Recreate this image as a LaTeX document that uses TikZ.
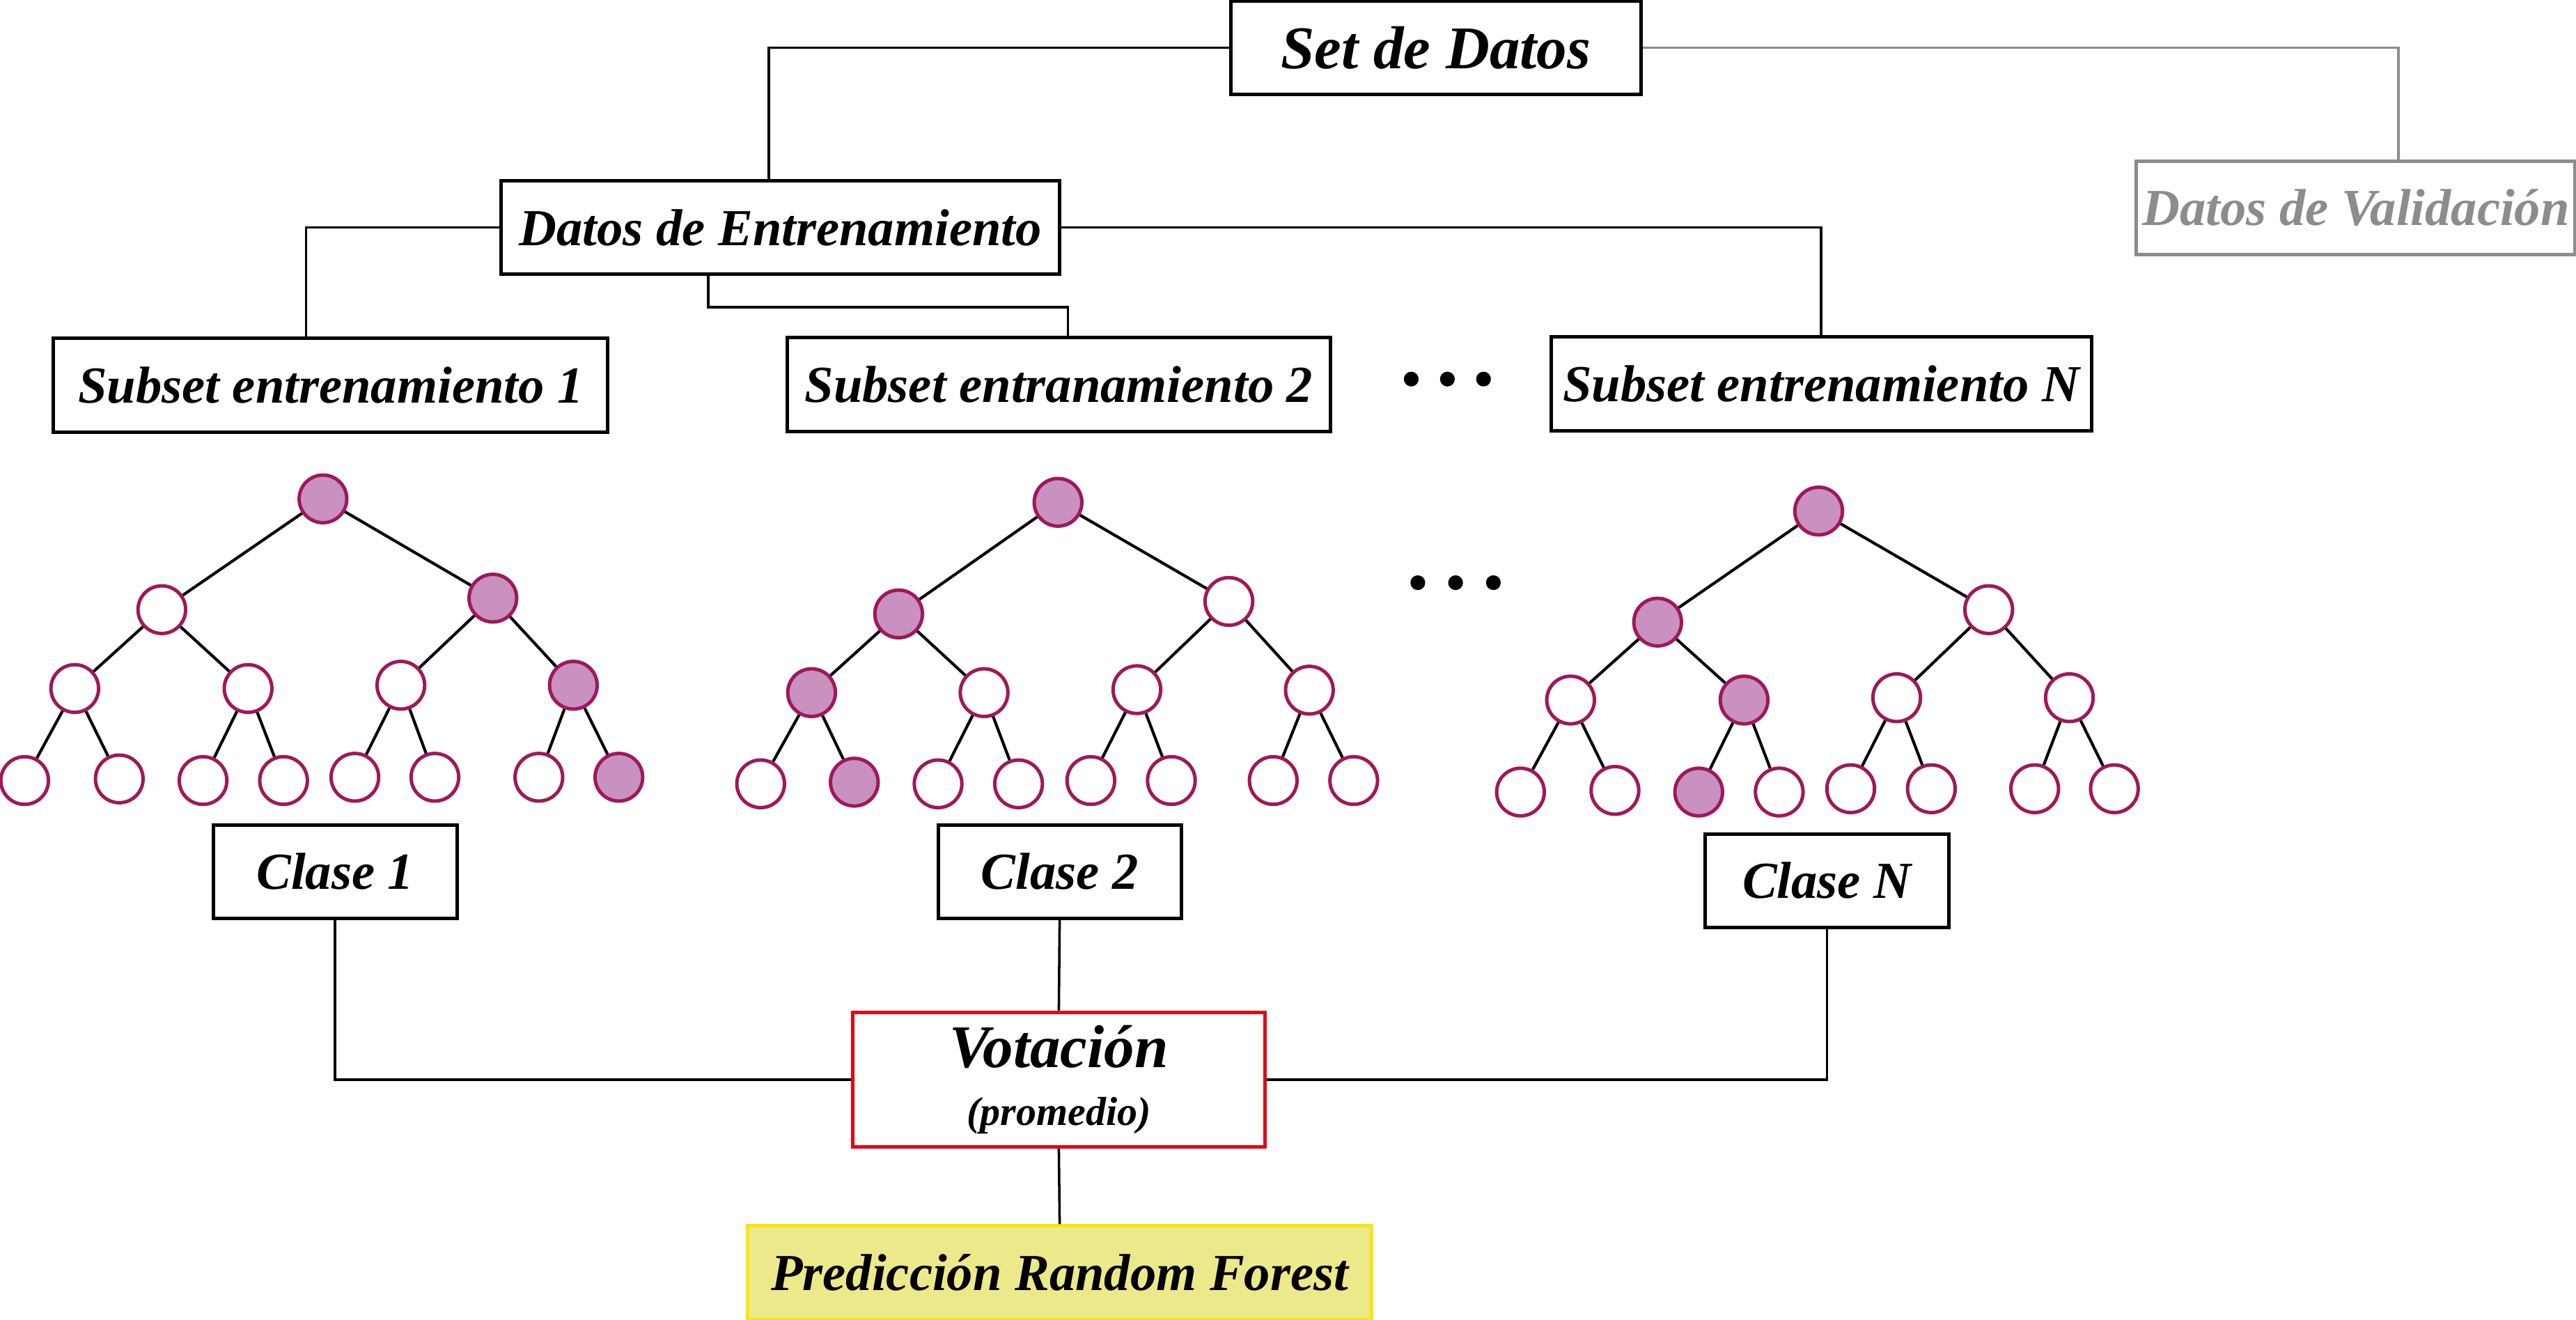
\documentclass[tikz,border=0pt]{standalone}
\usepackage{fontspec}
\setmainfont{Liberation Serif}
\usepackage{tikz}

\definecolor{leafline}{RGB}{160,24,90}
\definecolor{leaffill}{RGB}{200,145,191}
\definecolor{valgray}{RGB}{140,140,140}
\definecolor{votred}{RGB}{227,6,19}
\definecolor{predfill}{RGB}{236,233,138}
\definecolor{predline}{RGB}{245,230,22}

\tikzstyle{bx}=[shape=rectangle,
                draw=black,
                line width=1.2pt,
                minimum height=1.14cm,
                inner sep=2pt,
                font=\bfseries\itshape\fontsize{18}{21}\selectfont]
\tikzstyle{big}=[font=\bfseries\itshape\fontsize{21}{25}\selectfont]
\tikzstyle{tn}=[shape=circle,
                draw=leafline,
                fill=white,
                line width=1.2pt,
                minimum size=0.58cm,
                inner sep=0pt]
\tikzstyle{hit}=[tn,fill=leaffill]

\begin{document}
\begin{tikzpicture}[x=0.02cm,y=-0.02cm,line width=0.85pt]
\useasboundingbox (0,0) rectangle (1568,803);

% data sets
\node[bx,big,minimum width=5cm] (set) at (874,29) {Set de Datos};
\node[bx,minimum width=6.8cm] (train) at (475,138.5) {Datos de Entrenamiento};
\node[bx,minimum width=5.32cm,draw=valgray,text=valgray] (valid) at (1434,126.5) {Datos de Validación};

% training subsets
\node[bx,minimum width=6.75cm] (sub1) at (201.3,234.5) {Subset entrenamiento 1};
\node[bx,minimum width=6.62cm] (sub2) at (644.5,234) {Subset entranamiento 2};
\node[bx,minimum width=6.58cm] (subN) at (1108.5,233.5) {Subset entrenamiento N};

% tree 1
\node[hit] (a0) at (196.6,303.6) {};
\node[tn]  (a1) at (98.5,371) {};
\node[hit] (a2) at (300,364) {};
\node[tn]  (a3) at (45.5,419) {};
\node[tn]  (a4) at (151,419) {};
\node[tn]  (a5) at (244,417) {};
\node[hit] (a6) at (349,417) {};
\node[tn]  (a7) at (15,475) {};
\node[tn]  (a8) at (72.6,474) {};
\node[tn]  (a9) at (123.6,475) {};
\node[tn]  (a10) at (172.6,475) {};
\node[tn]  (a11) at (216,473) {};
\node[tn]  (a12) at (264.7,473) {};
\node[tn]  (a13) at (328,473) {};
\node[hit] (a14) at (376.7,473) {};

% tree 2
\node[hit] (b0) at (644,305.7) {};
\node[hit] (b1) at (547,373.6) {};
\node[tn]  (b2) at (748,366) {};
\node[hit] (b3) at (494,421.5) {};
\node[tn]  (b4) at (599,421.5) {};
\node[tn]  (b5) at (692,419.7) {};
\node[tn]  (b6) at (797,420) {};
\node[tn]  (b7) at (463,477) {};
\node[hit] (b8) at (520,476) {};
\node[tn]  (b9) at (571,477) {};
\node[tn]  (b10) at (620,477) {};
\node[tn]  (b11) at (664,475) {};
\node[tn]  (b12) at (713,475) {};
\node[tn]  (b13) at (775,475) {};
\node[tn]  (b14) at (824,475) {};

% tree N
\node[hit] (c0) at (1107,311) {};
\node[hit] (c1) at (1009,378.6) {};
\node[tn]  (c2) at (1210.5,371) {};
\node[tn]  (c3) at (956,426) {};
\node[hit] (c4) at (1061.6,426) {};
\node[tn]  (c5) at (1154.5,424.6) {};
\node[tn]  (c6) at (1259.6,424.6) {};
\node[tn]  (c7) at (925.5,482) {};
\node[tn]  (c8) at (983,481) {};
\node[hit] (c9) at (1034,482) {};
\node[tn]  (c10) at (1083,482) {};
\node[tn]  (c11) at (1126.5,480) {};
\node[tn]  (c12) at (1175.6,480) {};
\node[tn]  (c13) at (1238.5,480) {};
\node[tn]  (c14) at (1287,480) {};

% branches
\path[line width=1pt]
      (a0) edge (a1) edge (a2)
      (a1) edge (a3) edge (a4)
      (a2) edge (a5) edge (a6)
      (a3) edge (a7) edge (a8)
      (a4) edge (a9) edge (a10)
      (a5) edge (a11) edge (a12)
      (a6) edge (a13) edge (a14);
\path[line width=1pt]
      (b0) edge (b1) edge (b2)
      (b1) edge (b3) edge (b4)
      (b2) edge (b5) edge (b6)
      (b3) edge (b7) edge (b8)
      (b4) edge (b9) edge (b10)
      (b5) edge (b11) edge (b12)
      (b6) edge (b13) edge (b14);
\path[line width=1pt]
      (c0) edge (c1) edge (c2)
      (c1) edge (c3) edge (c4)
      (c2) edge (c5) edge (c6)
      (c3) edge (c7) edge (c8)
      (c4) edge (c9) edge (c10)
      (c5) edge (c11) edge (c12)
      (c6) edge (c13) edge (c14);

% dots
\fill (859,230.7) circle [radius=0.09cm] (881,230.7) circle [radius=0.09cm] (903,230.7) circle [radius=0.09cm];
\fill (863,354.6) circle [radius=0.09cm] (886,354.6) circle [radius=0.09cm] (909,354.6) circle [radius=0.09cm];

% classes
\node[bx,minimum width=2.97cm] (cl1) at (204,530.5) {Clase 1};
\node[bx,minimum width=2.96cm] (cl2) at (645,530.5) {Clase 2};
\node[bx,minimum width=2.97cm] (clN) at (1112,536) {Clase N};

% voting and result
\node[bx,draw=votred,minimum width=5.02cm,minimum height=1.64cm,align=center] (vote) at (644.5,657)
     {{\fontsize{21}{24}\selectfont Votación}\\[-1pt]{\fontsize{14}{16}\selectfont (promedio)}};
\node[bx,draw=predline,fill=predfill,minimum width=7.6cm] (pred) at (645,774.5) {Predicción Random Forest};

% connectors
\draw (set.west) -| ([xshift=-0.14cm]train.north);
\draw[valgray] (set.east) -| ([xshift=0.52cm]valid.north);
\draw (train.west) -| ([xshift=-0.3cm]sub1.north);
\draw ([xshift=-0.88cm]train.south) -- ++(0,19) -| ([xshift=0.11cm]sub2.north);
\draw (train.east) -| (subN.north);
\draw (cl1.south) |- (vote.west);
\draw (cl2.south) -- (vote.north);
\draw (clN.south) |- (vote.east);
\draw (vote.south) -- (pred.north);
\end{tikzpicture}
\end{document}
